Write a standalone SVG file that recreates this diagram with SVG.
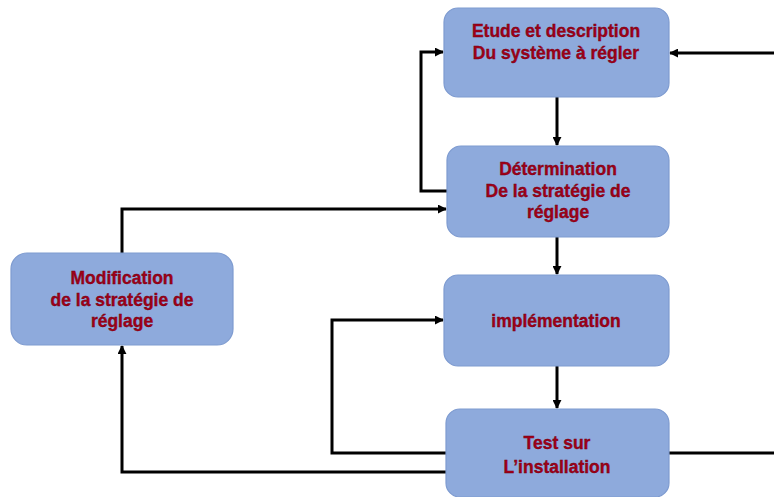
<svg xmlns="http://www.w3.org/2000/svg" width="774" height="497" viewBox="0 0 774 497">
  <style>
    .box { fill: #8eaadc; stroke: #7e9bd0; stroke-width: 1.2; }
    .lbl { font-family: "Liberation Sans", Arial, sans-serif; font-weight: bold; font-size: 17.5px; fill: #a00018; stroke: #6e0010; stroke-width: 0.35; text-anchor: middle; }
    .wire { fill: none; stroke: #000; stroke-width: 3; marker-end: url(#arrow); }
    .line { fill: none; stroke: #000; stroke-width: 3; }
  </style>
  <defs>
    <marker id="arrow" viewBox="0 0 10 10" refX="9" refY="5" markerWidth="3" markerHeight="3" orient="auto" markerUnits="strokeWidth">
      <path d="M0,0 L10,5 L0,10 z" fill="#000"/>
    </marker>
  </defs>
  <rect width="774" height="497" fill="#fff"/>

  <g id="connectors">
    <path class="wire" d="M557,97 V145"/>
    <path class="wire" d="M447,191 H421 V52 H443"/>
    <path class="wire" d="M774,53 H670"/>
    <path class="wire" d="M122,253 V209 H446"/>
    <path class="wire" d="M557,237 V274"/>
    <path class="wire" d="M557,366 V408"/>
    <path class="wire" d="M446,453 H332 V320 H443"/>
    <path class="wire" d="M446,472 H122 V346"/>
    <path class="line" d="M669,453 H774"/>
  </g>

  <g id="etude">
    <rect class="box" x="444" y="8" width="225" height="89" rx="14"/>
    <text class="lbl" x="556" y="37">Etude et description</text>
    <text class="lbl" x="556" y="59">Du système à régler</text>
  </g>

  <g id="determination">
    <rect class="box" x="447" y="146" width="222" height="91" rx="14"/>
    <text class="lbl" x="558" y="175">Détermination</text>
    <text class="lbl" x="558" y="197">De la stratégie de</text>
    <text class="lbl" x="558" y="218">réglage</text>
  </g>

  <g id="implementation">
    <rect class="box" x="444" y="275" width="225" height="91" rx="14"/>
    <text class="lbl" x="556" y="327">implémentation</text>
  </g>

  <g id="test">
    <rect class="box" x="446" y="409" width="223" height="88" rx="14"/>
    <text class="lbl" x="557" y="449">Test sur</text>
    <text class="lbl" x="557" y="473">L’installation</text>
  </g>

  <g id="modification">
    <rect class="box" x="11" y="253" width="222" height="92" rx="16"/>
    <text class="lbl" x="122" y="284">Modification</text>
    <text class="lbl" x="122" y="306">de la stratégie de</text>
    <text class="lbl" x="122" y="327">réglage</text>
  </g>
</svg>
